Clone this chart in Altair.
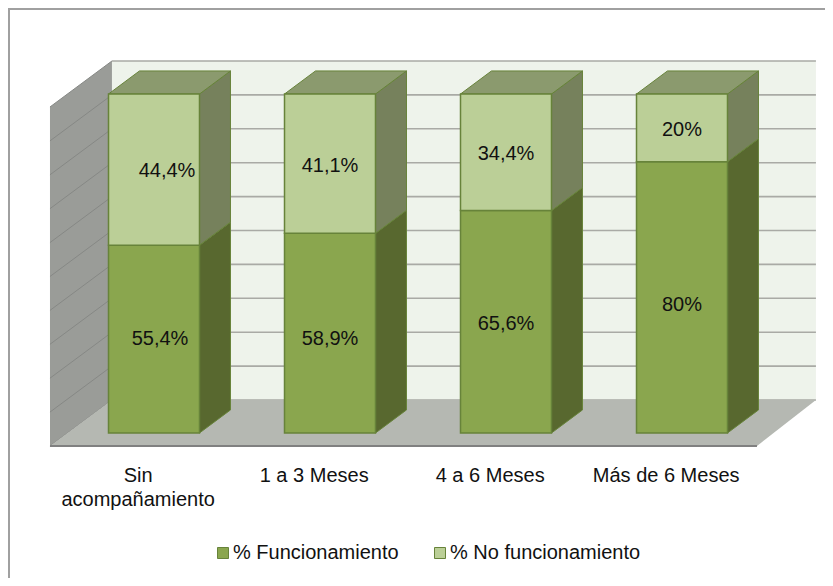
import altair as alt
import pandas as pd

# ---- values
CATEGORIES = ["Sin\nacompañamiento", "1 a 3 Meses", "4 a 6 Meses", "Más de 6 Meses"]
FUNCIONA = [55.4, 58.9, 65.6, 80.0]
NO_FUNCIONA = [44.4, 41.1, 34.4, 20.0]
FUNCIONA_TXT = ["55,4%", "58,9%", "65,6%", "80%"]
NO_FUNCIONA_TXT = ["44,4%", "41,1%", "34,4%", "20%"]
SERIES = ["% Funcionamiento", "% No funcionamiento"]
TICKS = [0, 10, 20, 30, 40, 50, 60, 70, 80, 90, 100]

# ---- layout and style
W, H = 817, 570
PX_X, PX_Y = 176.0, 3.39          # pixels per category slot / per percent
X_DOMAIN = [(8 - 154) / PX_X, (8 + W - 154) / PX_X]
Y_DOMAIN = [(433 - 8 - H) / PX_Y, (433 - 8) / PX_Y]
HALF = 0.2585
BAR_DX, BAR_DY = 0.176, 6.8
FLOOR_FRONT_DY = -3.83
WALL_X0, WALL_X1, WALL_X_END = -0.591, -0.239, 3.761
FLOOR_FRONT_END = 3.426
WALL_DY = 9.73
FONT = "Liberation Sans"
FS = 20
TOP_NUDGE_X, TOP_NUDGE_Y = [13, 0, 0, 0], [1, 2, 2, 2]
LOW_NUDGE_X, LOW_NUDGE_Y = [6, 0, 0, 0], [0, 6, 2, 8]

x_s = alt.Scale(domain=X_DOMAIN, nice=False, zero=False)
y_s = alt.Scale(domain=Y_DOMAIN, nice=False, zero=False)
X = lambda f: alt.X(f, type="quantitative", scale=x_s, axis=None)
Y = lambda f: alt.Y(f, type="quantitative", scale=y_s, axis=None, stack=None)

# ---- walls
side_wall = pd.DataFrame({"x": [WALL_X0, WALL_X1],
                          "y": [FLOOR_FRONT_DY, WALL_DY],
                          "y2": [100 + FLOOR_FRONT_DY, 100 + WALL_DY]})
back_wall = pd.DataFrame({"x": [WALL_X1], "x2": [WALL_X_END], "y": [WALL_DY], "y2": [100 + WALL_DY]})
floor = pd.DataFrame({"y": [FLOOR_FRONT_DY, WALL_DY],
                      "x": [WALL_X0, WALL_X1],
                      "x2": [FLOOR_FRONT_END, WALL_X_END]})

back_layer = alt.Chart(back_wall).mark_rect(color="#EEF3EB").encode(
    x=X("x"), x2="x2", y=Y("y"), y2="y2")
side_layer = alt.Chart(side_wall).mark_area(color="#9A9C98", orient="vertical").encode(
    x=X("x"), y=Y("y"), y2="y2")
floor_layer = alt.Chart(floor).mark_area(color="#B5B8B2", orient="horizontal").encode(
    y=Y("y"), x=X("x"), x2="x2")

back_grid = pd.DataFrame({"x": [WALL_X1] * len(TICKS), "x2": [WALL_X_END] * len(TICKS),
                          "y": [t + WALL_DY for t in TICKS]})
side_rows = []
for t in TICKS:
    side_rows.append({"t": t, "x": WALL_X0, "y": t + FLOOR_FRONT_DY})
    side_rows.append({"t": t, "x": WALL_X1, "y": t + WALL_DY})
back_grid_layer = alt.Chart(back_grid).mark_rule(color="#A9AAA5", strokeWidth=1.6).encode(
    x=X("x"), x2="x2", y=Y("y"))
side_grid_layer = alt.Chart(pd.DataFrame(side_rows)).mark_line(color="#868885", strokeWidth=1).encode(
    x=X("x"), y=Y("y"), detail="t:N")
front_edge = alt.Chart(pd.DataFrame({"x": [WALL_X0], "x2": [FLOOR_FRONT_END], "y": [FLOOR_FRONT_DY]})).mark_rule(
    color="#808080", strokeWidth=2).encode(x=X("x"), x2="x2", y=Y("y"))

# ---- bars
fronts, sides, tops, labels = [], [], [], []
for i, (a, b, ta, tb) in enumerate(zip(FUNCIONA, NO_FUNCIONA, FUNCIONA_TXT, NO_FUNCIONA_TXT)):
    fronts.append({"serie": SERIES[0], "x": i - HALF, "x2": i + HALF, "y": 0, "y2": a})
    fronts.append({"serie": SERIES[1], "x": i - HALF, "x2": i + HALF, "y": a, "y2": 100})
    for name, lo, hi, col in (("f", 0, a, "#58682F"), ("n", a, 100, "#76815C")):
        for dx, dy in ((0, 0), (BAR_DX, BAR_DY)):
            sides.append({"face": f"{name}{i}", "fill": col, "x": i + HALF + dx, "y": lo + dy, "y2": hi + dy})
    for dx, dy in ((0, 0), (BAR_DX, BAR_DY)):
        tops.append({"face": f"t{i}", "y": 100 + dy, "x": i - HALF + dx, "x2": i + HALF + dx})
    labels.append({"t": ta, "x": i + LOW_NUDGE_X[i] / PX_X, "y": a / 2 - LOW_NUDGE_Y[i] / PX_Y})
    labels.append({"t": tb, "x": i + TOP_NUDGE_X[i] / PX_X, "y": a + (100 - a) / 2 - TOP_NUDGE_Y[i] / PX_Y})

EDGE = "#67833A"
front_layer = alt.Chart(pd.DataFrame(fronts)).mark_rect(stroke=EDGE, strokeWidth=1.5).encode(
    x=X("x"), x2="x2", y=Y("y"), y2="y2",
    color=alt.Color("serie:N", scale=alt.Scale(domain=SERIES, range=["#8AA64E", "#BBCF97"]),
                    legend=alt.Legend(title=None, orient="none", legendX=205, legendY=535,
                                      direction="horizontal", symbolType="square", symbolSize=121,
                                      symbolStrokeColor=EDGE, symbolStrokeWidth=1,
                                      labelFont=FONT, labelFontSize=FS, labelColor="#111111",
                                      labelOffset=0, columnPadding=31, labelLimit=300, symbolOpacity=1)))
side_bar_layer = alt.Chart(pd.DataFrame(sides)).mark_area(
    orient="vertical", stroke=EDGE, strokeWidth=1).encode(
    x=X("x"), y=Y("y"), y2="y2", detail="face:N", fill=alt.Fill("fill:N", scale=None))
top_bar_layer = alt.Chart(pd.DataFrame(tops)).mark_area(
    orient="horizontal", color="#8B9A6E", stroke=EDGE, strokeWidth=1).encode(
    y=Y("y"), x=X("x"), x2="x2", detail="face:N")
label_layer = alt.Chart(pd.DataFrame(labels)).mark_text(
    font=FONT, fontSize=FS, color="#111111", align="center", baseline="middle").encode(
    x=X("x"), y=Y("y"), text="t:N")

# ---- category labels (sit under the floor's front edge)
cat_df = pd.DataFrame({"c": CATEGORIES, "x": [i - 0.09 for i in range(4)], "y": [-9.7] * 4})
cat_layer = alt.Chart(cat_df).mark_text(
    font=FONT, fontSize=FS, color="#111111", align="center", baseline="top",
    lineBreak="\n", lineHeight=24).encode(x=X("x"), y=Y("y"), text="c:N")

# ---- frame
frame_left = alt.Chart(pd.DataFrame({"a": [0]})).mark_rule(color="#A0A0A0", strokeWidth=2).encode(
    x=alt.value(1), y=alt.value(0), y2=alt.value(H))
frame_top = alt.Chart(pd.DataFrame({"a": [0]})).mark_rule(color="#A0A0A0", strokeWidth=2).encode(
    x=alt.value(0), x2=alt.value(W), y=alt.value(1))

chart = alt.layer(
    back_layer, back_grid_layer, side_layer, side_grid_layer, floor_layer, front_edge,
    side_bar_layer, top_bar_layer, front_layer, label_layer, cat_layer, frame_left, frame_top,
).properties(width=W, height=H, padding=0, background="#FFFFFF",
             autosize=alt.AutoSizeParams(type="none")
).configure_view(stroke=None)

chart.save("out.html", embed_options={"renderer": "svg", "actions": False})
